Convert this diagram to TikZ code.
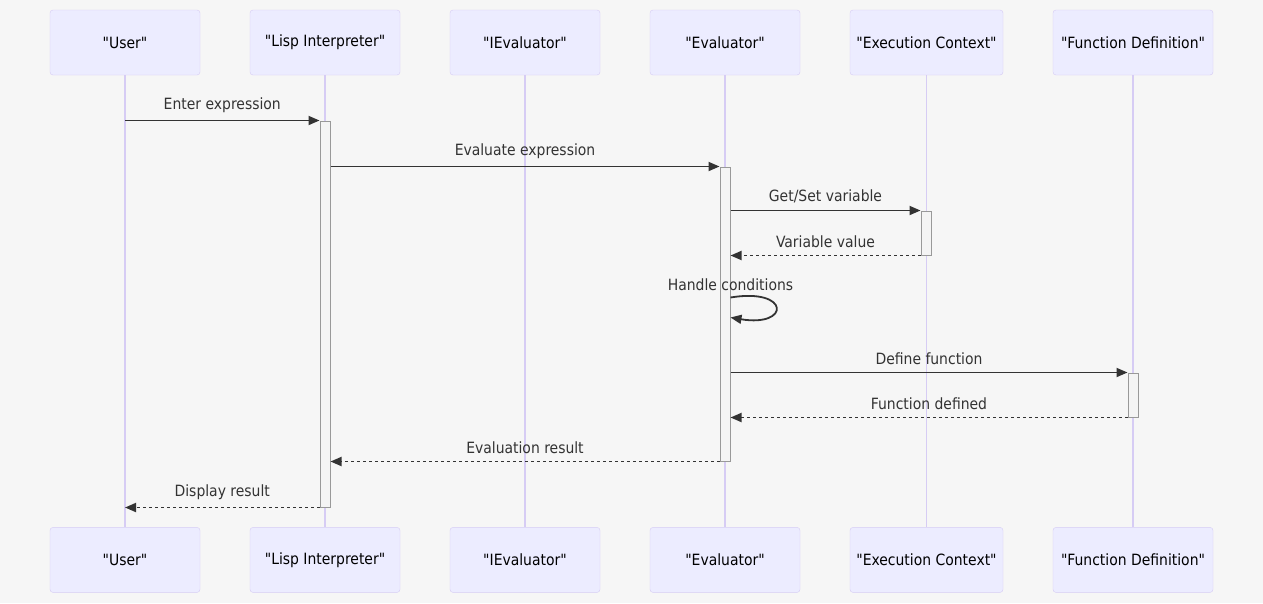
\documentclass[tikz,border=0pt]{standalone}
\usepackage{fontspec}
\setmainfont{DejaVu Sans Condensed}[Ligatures=TeXOff]
\usepackage{tikz}
\usetikzlibrary{arrows.meta}
\usetikzlibrary{positioning}
\definecolor{bgcol}{HTML}{F6F6F6}
\definecolor{actorfill}{HTML}{ECECFF}
\definecolor{actorline}{HTML}{D6CCF4}
\definecolor{actfill}{HTML}{F4F4F4}
\definecolor{actline}{HTML}{999999}
\definecolor{msgcol}{HTML}{333333}

\begin{document}
\begin{tikzpicture}[
     x=1pt, y=-1pt,
     font=\fontsize{15.5}{18}\selectfont,
     actorbox/.style={rectangle, rounded corners=3pt, draw=actorline, fill=actorfill, minimum height=65pt, text=black},
     lifeline/.style={draw=actorline, line width=1.3pt},
     actbar/.style={rectangle, draw=actline, fill=actfill, minimum width=10pt, inner sep=0pt, line width=1pt},
     msg/.style={draw=msgcol, line width=1.8pt, -{Triangle[length=11pt,width=9pt]}},
     reply/.style={msg, dash pattern=on 3pt off 3pt},
     msglabel/.style={midway, yshift=15pt, text=msgcol}
 ]
 \newcommand{\quoted}[1]{"#1"}
 \useasboundingbox[fill=bgcol] (0,0) rectangle (1263,603);

 % actors on top and at the bottom, joined by their lifelines
 \foreach \name/\lbl/\cx/\w in {user/User/125/150, lisp/Lisp Interpreter/325/150, ieval/IEvaluator/525/150, evl/Evaluator/725/150, exc/Execution Context/926.5/153, fun/Function Definition/1133/160} {
     \node[actorbox, minimum width=\w pt] (top\name) at (\cx,42.5) {\quoted{\lbl}};
     \node[actorbox, minimum width=\w pt, below=452pt of top\name] (bot\name) {\quoted{\lbl}};
     \draw[lifeline] (top\name.south) -- (bot\name.north);
 }

 % activations
 \node[actbar, minimum height=386pt] (actlisp) at (325,314) {};
 \node[actbar, minimum height=294pt] (actevl) at (725,314) {};
 \node[actbar, minimum height=44pt] (actexc) at (926,233) {};
 \node[actbar, minimum height=44pt] (actfun) at (1133,395) {};

 \draw[msg] (topuser.south |- actlisp.north) -- node[msglabel] {Enter expression} (actlisp.north west);
 \draw[msg] (actlisp.east |- actevl.north) -- node[msglabel] {Evaluate expression} (actevl.north west);
 \draw[msg] (actevl.east |- actexc.north) -- node[msglabel, yshift=-1pt] {Get/Set variable} (actexc.north west);
 \draw[reply] (actexc.south west) -- node[msglabel, yshift=-1pt] {Variable value} (actevl.east |- actexc.south);

 \coordinate (loopstart) at ([yshift=-131pt]actevl.north east);
 \coordinate (loopend) at ([yshift=-151pt]actevl.north east);
 \draw[msg] (loopstart) node[yshift=13pt, text=msgcol] {Handle conditions}
     .. controls +(60,-10) and +(60,10) .. (loopend);

 \draw[msg] (actevl.east |- actfun.north) -- node[msglabel, yshift=-1pt] {Define function} (actfun.north west);
 \draw[reply] (actfun.south west) -- node[msglabel, yshift=-1pt] {Function defined} (actevl.east |- actfun.south);
 \draw[reply] (actevl.south west) -- node[msglabel, yshift=-1pt] {Evaluation result} (actlisp.east |- actevl.south);
 \draw[reply] (actlisp.south west) -- node[msglabel] {Display result} (topuser.south |- actlisp.south);
\end{tikzpicture}
\end{document}
